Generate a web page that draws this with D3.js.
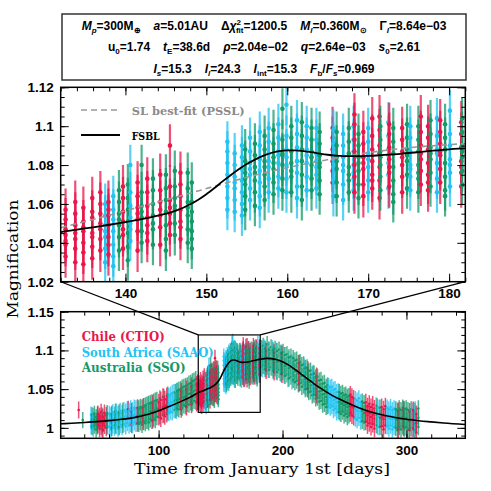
<!DOCTYPE html>
<html>
<head>
<meta charset="utf-8">
<script src="https://cdn.jsdelivr.net/npm/d3@7"></script>
<style>
  body { margin: 0; background: #fff; }
  .tick text { font-family: "Liberation Sans", Arial, sans-serif; font-weight: bold; font-size: 13.5px; fill: #000; }
  .tick line { stroke: #000; stroke-width: 1; }
</style>
</head>
<body>
<div id="chart"></div>
<script>
// ---- data: each night = [time (days), magnification values...] ----
var ctioNights = [
  [35.5, 1.023],
  [51.0, 1.004, 1.011, 1.018], [52.4, 0.999, 1.008, 1.015], [53.6, 1.002, 1.012, 1.020],
  [55.0, 0.997, 1.006, 1.014], [56.3, 1.003, 1.010, 1.019], [57.8, 1.000, 1.009, 1.016],
  [75.5, 1.024], [78.3, 1.004, 1.013, 1.021], [83.0, 1.006, 1.015, 1.026], [87.5, 1.008, 1.017, 1.027],
  [95.3, 1.010, 1.021, 1.031], [100.2, 1.014, 1.024, 1.033], [101.8, 1.012, 1.022, 1.036],
  [103.5, 1.017, 1.027, 1.040], [105.0, 1.015, 1.028, 1.037], [106.6, 1.018, 1.030, 1.041],
  [118.3, 1.024, 1.035, 1.047], [122.5, 1.027, 1.038, 1.050], [126.6, 1.030, 1.041, 1.054],
  [130.8, 1.032, 1.044, 1.056], [131.6, 1.034, 1.046, 1.058],
  [132.6, 1.033, 1.039, 1.044, 1.047, 1.052, 1.057, 1.041],
  [133.8, 1.030, 1.037, 1.045, 1.049, 1.055, 1.061, 1.042],
  [134.8, 1.035, 1.040, 1.046, 1.051, 1.058, 1.029, 1.048],
  [135.9, 1.032, 1.038, 1.045, 1.053, 1.056, 1.063, 1.043],
  [136.9, 1.036, 1.042, 1.047, 1.055, 1.060, 1.066, 1.050],
  [137.9, 1.034, 1.043, 1.049, 1.054, 1.061, 1.039, 1.057],
  [139.7, 1.037, 1.044, 1.051, 1.056, 1.063, 1.069, 1.047],
  [141.5, 1.036, 1.046, 1.052, 1.058, 1.064, 1.071, 1.055],
  [142.7, 1.041, 1.045, 1.053, 1.059, 1.066, 1.073, 1.049],
  [144.3, 1.039, 1.048, 1.054, 1.061, 1.067, 1.075, 1.057],
  [145.5, 1.044, 1.050, 1.055, 1.062, 1.069, 1.090, 1.058],
  [146.8, 1.042, 1.051, 1.057, 1.064, 1.070, 1.076, 1.048],
  [165.6, 1.071, 1.077, 1.082, 1.088, 1.094, 1.099, 1.085],
  [168.3, 1.066, 1.074, 1.080, 1.087, 1.093, 1.101, 1.106],
  [169.4, 1.064, 1.070, 1.078, 1.084, 1.091, 1.097, 1.081],
  [170.5, 1.068, 1.075, 1.082, 1.088, 1.095, 1.104, 1.072],
  [171.4, 1.063, 1.072, 1.079, 1.086, 1.090, 1.098, 1.105],
  [172.6, 1.069, 1.076, 1.083, 1.089, 1.096, 1.101, 1.079],
  [174.2, 1.066, 1.074, 1.080, 1.087, 1.093, 1.099, 1.084],
  [176.5, 1.070, 1.077, 1.083, 1.090, 1.097, 1.105, 1.086],
  [177.4, 1.067, 1.075, 1.081, 1.088, 1.094, 1.100, 1.071],
  [178.9, 1.071, 1.078, 1.085, 1.091, 1.097, 1.103, 1.087],
  [181.5, 1.069, 1.076, 1.082, 1.089, 1.096, 1.102, 1.079],
  [186.8, 1.074, 1.086, 1.099], [193.2, 1.072, 1.084, 1.097], [199.6, 1.069, 1.081, 1.095],
  [213.5, 1.058, 1.070, 1.083], [220.5, 1.050, 1.062, 1.075], [227.5, 1.042, 1.054, 1.067],
  [254.7, 1.019, 1.031, 1.043], [256.0, 1.016, 1.028, 1.040], [257.4, 1.014, 1.026, 1.038],
  [267.2, 1.008, 1.020, 1.033], [268.6, 1.003, 1.016, 1.028], [270.0, 1.006, 1.019, 1.031],
  [271.4, 1.001, 1.014, 1.027], [272.8, 1.005, 1.017, 1.030], [274.2, 0.999, 1.012, 1.025],
  [280.0, 1.002, 1.014, 1.027], [281.5, 0.998, 1.011, 1.024], [283.0, 1.003, 1.015, 1.028],
  [293.5, 0.998, 1.010, 1.022], [297.7, 1.000, 1.012, 1.024], [302.6, 0.997, 1.009, 1.021],
  [305.5, 0.999, 1.011, 1.023], [308.0, 0.994, 1.006, 1.018]
];

var saaoNights = [
  [45.5, 1.002, 1.009, 1.017], [47.3, 0.999, 1.007, 1.015],
  [60.2, 1.001, 1.010, 1.018], [61.5, 0.998, 1.007, 1.016], [63.0, 1.003, 1.011, 1.020],
  [64.4, 1.000, 1.008, 1.017], [66.0, 1.002, 1.012, 1.021], [67.3, 0.999, 1.009, 1.018],
  [69.0, 1.004, 1.013, 1.022], [70.5, 1.001, 1.010, 1.019], [72.0, 1.005, 1.014, 1.023],
  [73.5, 1.002, 1.011, 1.021], [74.8, 1.006, 1.015, 1.024], [76.2, 1.003, 1.012, 1.022],
  [77.5, 1.005, 1.016, 1.025], [79.0, 1.004, 1.013, 1.023], [80.4, 1.007, 1.017, 1.026],
  [81.7, 1.005, 1.014, 1.025], [91.3, 1.009, 1.019, 1.030],
  [108.3, 1.019, 1.030, 1.041], [109.6, 1.021, 1.032, 1.043], [111.0, 1.020, 1.033, 1.045],
  [112.4, 1.023, 1.035, 1.046], [114.3, 1.022, 1.034, 1.047],
  [137.5, 1.030, 1.037, 1.043, 1.049, 1.054, 1.060, 1.046],
  [138.5, 1.033, 1.039, 1.046, 1.052, 1.057, 1.064, 1.028],
  [140.6, 1.041, 1.047, 1.053, 1.059, 1.066, 1.080, 1.050],
  [152.6, 1.057, 1.063, 1.069, 1.075, 1.081, 1.087, 1.092],
  [153.5, 1.056, 1.062, 1.068, 1.074, 1.080, 1.086, 1.071],
  [154.4, 1.060, 1.066, 1.072, 1.078, 1.084, 1.090, 1.054],
  [155.4, 1.062, 1.068, 1.075, 1.081, 1.087, 1.094, 1.078],
  [156.6, 1.064, 1.071, 1.077, 1.083, 1.090, 1.097, 1.058],
  [157.7, 1.066, 1.073, 1.079, 1.086, 1.092, 1.099, 1.082],
  [158.9, 1.068, 1.074, 1.081, 1.087, 1.094, 1.101, 1.085],
  [159.9, 1.066, 1.073, 1.080, 1.088, 1.095, 1.111, 1.084],
  [161.2, 1.069, 1.076, 1.082, 1.089, 1.096, 1.103, 1.063],
  [162.4, 1.067, 1.074, 1.081, 1.088, 1.094, 1.100, 1.085],
  [163.6, 1.068, 1.075, 1.082, 1.086, 1.093, 1.099, 1.079],
  [165.7, 1.064, 1.072, 1.079, 1.085, 1.091, 1.098, 1.083],
  [166.9, 1.062, 1.070, 1.077, 1.084, 1.090, 1.096, 1.080],
  [168.2, 1.067, 1.073, 1.080, 1.087, 1.093, 1.100, 1.076],
  [170.0, 1.066, 1.072, 1.079, 1.086, 1.092, 1.099, 1.083],
  [172.5, 1.068, 1.075, 1.081, 1.088, 1.095, 1.102, 1.085],
  [175.2, 1.067, 1.074, 1.080, 1.087, 1.094, 1.100, 1.078],
  [178.5, 1.066, 1.073, 1.081, 1.088, 1.095, 1.104, 1.086],
  [180.1, 1.069, 1.076, 1.083, 1.090, 1.096, 1.108, 1.080],
  [183.6, 1.076, 1.089, 1.102], [185.2, 1.079, 1.091, 1.104], [188.4, 1.075, 1.088, 1.101],
  [191.6, 1.077, 1.090, 1.103], [194.8, 1.073, 1.086, 1.100], [198.0, 1.071, 1.083, 1.096],
  [201.2, 1.068, 1.081, 1.094], [204.4, 1.063, 1.076, 1.089], [207.6, 1.060, 1.072, 1.085],
  [217.7, 1.054, 1.066, 1.079], [224.7, 1.046, 1.058, 1.071],
  [237.2, 1.029, 1.041, 1.054], [238.5, 1.026, 1.039, 1.052], [239.8, 1.028, 1.040, 1.053],
  [241.1, 1.023, 1.036, 1.049], [242.4, 1.025, 1.037, 1.050], [243.7, 1.020, 1.033, 1.046],
  [245.0, 1.022, 1.034, 1.047],
  [258.8, 1.012, 1.024, 1.037], [260.2, 1.010, 1.022, 1.035], [261.6, 1.013, 1.025, 1.038],
  [263.0, 1.008, 1.021, 1.033], [275.5, 1.004, 1.017, 1.029], [277.0, 1.001, 1.014, 1.026],
  [284.4, 1.002, 1.014, 1.026], [285.8, 0.999, 1.012, 1.024], [287.2, 1.003, 1.015, 1.027],
  [288.6, 0.998, 1.011, 1.023], [290.0, 1.001, 1.013, 1.025],
  [304.5, 0.998, 1.010, 1.022], [307.2, 1.000, 1.012, 1.024]
];

var ssoNights = [
  [38.8, 1.010],
  [46.4, 1.001, 1.008, 1.016], [48.2, 1.003, 1.010, 1.018], [49.6, 0.998, 1.006, 1.014],
  [50.7, 1.002, 1.009, 1.017], [54.3, 0.999, 1.008, 1.016], [58.5, 1.002, 1.010, 1.019],
  [62.2, 1.000, 1.009, 1.018], [65.2, 1.003, 1.012, 1.021], [68.2, 1.001, 1.010, 1.020],
  [71.2, 1.004, 1.013, 1.022],
  [84.0, 1.005, 1.015, 1.025], [85.3, 1.007, 1.016, 1.027], [86.6, 1.004, 1.014, 1.026],
  [88.0, 1.008, 1.018, 1.028], [89.3, 1.006, 1.017, 1.029], [90.6, 1.009, 1.019, 1.030],
  [92.0, 1.007, 1.018, 1.031], [93.3, 1.011, 1.021, 1.032], [94.6, 1.009, 1.020, 1.033],
  [96.0, 1.012, 1.023, 1.034], [97.3, 1.010, 1.022, 1.035], [98.6, 1.014, 1.025, 1.036],
  [101.0, 1.015, 1.026, 1.038], [104.2, 1.017, 1.029, 1.040], [107.4, 1.020, 1.031, 1.043],
  [113.6, 1.023, 1.035, 1.046], [115.0, 1.025, 1.036, 1.048], [116.3, 1.024, 1.037, 1.049],
  [117.7, 1.027, 1.038, 1.050], [119.0, 1.026, 1.039, 1.052], [120.4, 1.029, 1.040, 1.053],
  [121.8, 1.028, 1.041, 1.054], [123.2, 1.031, 1.043, 1.055], [124.5, 1.030, 1.044, 1.057],
  [125.9, 1.033, 1.045, 1.058], [127.3, 1.032, 1.046, 1.060], [128.6, 1.035, 1.048, 1.061],
  [130.0, 1.034, 1.049, 1.063],
  [139.2, 1.036, 1.043, 1.049, 1.055, 1.061, 1.067, 1.052],
  [140.3, 1.038, 1.045, 1.051, 1.057, 1.063, 1.070, 1.031],
  [142.0, 1.040, 1.046, 1.053, 1.059, 1.066, 1.080, 1.056],
  [143.4, 1.039, 1.047, 1.054, 1.060, 1.067, 1.073, 1.050],
  [145.0, 1.042, 1.049, 1.056, 1.062, 1.068, 1.075, 1.036],
  [146.1, 1.044, 1.050, 1.057, 1.063, 1.069, 1.077, 1.059],
  [147.7, 1.040, 1.047, 1.054, 1.061, 1.068, 1.076, 1.058],
  [148.2, 1.037, 1.046, 1.051, 1.061, 1.071, 1.056, 1.042],
  [154.8, 1.057, 1.064, 1.070, 1.076, 1.082, 1.088, 1.073],
  [156.0, 1.059, 1.066, 1.072, 1.079, 1.085, 1.091, 1.076],
  [157.2, 1.062, 1.069, 1.075, 1.082, 1.088, 1.095, 1.079],
  [158.3, 1.065, 1.071, 1.078, 1.084, 1.091, 1.098, 1.081],
  [159.4, 1.067, 1.073, 1.080, 1.086, 1.093, 1.109, 1.085],
  [160.5, 1.066, 1.074, 1.081, 1.087, 1.094, 1.100, 1.077],
  [161.8, 1.069, 1.075, 1.082, 1.088, 1.095, 1.102, 1.062],
  [163.0, 1.067, 1.073, 1.080, 1.087, 1.093, 1.099, 1.084],
  [164.0, 1.065, 1.072, 1.079, 1.085, 1.091, 1.097, 1.081],
  [166.1, 1.064, 1.071, 1.078, 1.084, 1.090, 1.097, 1.082],
  [167.6, 1.066, 1.072, 1.079, 1.086, 1.092, 1.099, 1.075],
  [168.8, 1.063, 1.070, 1.077, 1.084, 1.090, 1.096, 1.081],
  [171.5, 1.067, 1.074, 1.080, 1.087, 1.093, 1.100, 1.084],
  [173.1, 1.065, 1.072, 1.079, 1.086, 1.092, 1.099, 1.061],
  [174.8, 1.068, 1.075, 1.082, 1.088, 1.094, 1.101, 1.085],
  [176.2, 1.066, 1.073, 1.080, 1.087, 1.093, 1.100, 1.076],
  [177.7, 1.069, 1.076, 1.083, 1.089, 1.096, 1.103, 1.086],
  [179.5, 1.067, 1.074, 1.081, 1.088, 1.094, 1.101, 1.064],
  [181.6, 1.070, 1.077, 1.084, 1.090, 1.097, 1.104, 1.087],
  [182.8, 1.077, 1.090, 1.103], [184.4, 1.080, 1.092, 1.106], [186.0, 1.076, 1.089, 1.102],
  [187.6, 1.079, 1.091, 1.108], [189.2, 1.075, 1.088, 1.101], [190.8, 1.078, 1.090, 1.104],
  [192.4, 1.074, 1.087, 1.100], [194.0, 1.077, 1.089, 1.102], [195.6, 1.072, 1.085, 1.099],
  [197.2, 1.075, 1.087, 1.101], [198.8, 1.070, 1.083, 1.097], [200.4, 1.072, 1.085, 1.098],
  [202.0, 1.067, 1.080, 1.094], [203.6, 1.069, 1.082, 1.095], [205.2, 1.064, 1.077, 1.091],
  [206.8, 1.066, 1.079, 1.092], [208.6, 1.062, 1.076, 1.090], [210.0, 1.059, 1.073, 1.087],
  [211.4, 1.061, 1.074, 1.088], [212.8, 1.056, 1.070, 1.084], [214.2, 1.058, 1.071, 1.085],
  [215.6, 1.053, 1.067, 1.081], [217.0, 1.055, 1.068, 1.082], [218.4, 1.050, 1.063, 1.077],
  [219.8, 1.051, 1.064, 1.078], [221.2, 1.046, 1.059, 1.073], [222.6, 1.047, 1.060, 1.074],
  [224.0, 1.042, 1.055, 1.069], [225.4, 1.043, 1.056, 1.070], [226.8, 1.038, 1.051, 1.065],
  [228.2, 1.039, 1.052, 1.066], [229.6, 1.034, 1.047, 1.061], [231.0, 1.035, 1.048, 1.062],
  [232.4, 1.030, 1.043, 1.057], [233.8, 1.031, 1.044, 1.058], [235.2, 1.027, 1.040, 1.053],
  [236.4, 1.028, 1.041, 1.055],
  [245.8, 1.020, 1.033, 1.046], [247.1, 1.018, 1.031, 1.044], [248.4, 1.021, 1.032, 1.045],
  [249.7, 1.016, 1.029, 1.042], [251.0, 1.018, 1.030, 1.043], [252.3, 1.014, 1.027, 1.040],
  [253.6, 1.016, 1.028, 1.041], [264.3, 1.009, 1.022, 1.034], [265.8, 1.007, 1.019, 1.032],
  [276.3, 1.003, 1.016, 1.028], [278.6, 1.001, 1.013, 1.026],
  [291.4, 1.000, 1.012, 1.024], [292.8, 0.997, 1.010, 1.022], [294.2, 1.001, 1.013, 1.025],
  [295.6, 0.998, 1.011, 1.023], [297.0, 1.002, 1.014, 1.026], [298.4, 0.999, 1.011, 1.024],
  [299.8, 1.001, 1.013, 1.025], [301.2, 0.998, 1.010, 1.023], [303.8, 1.000, 1.012, 1.024],
  [306.8, 0.997, 1.010, 1.022], [309.6, 1.001, 1.013, 1.025]
];

// photometric error per site
var siteErr = { ctio: 0.011, saao: 0.0105, sso: 0.0105 };

// FSBL model curve [time, magnification]
var fsblCurve = [
  [21, 1.0052], [30, 1.006], [40, 1.007], [50, 1.008], [60, 1.0093], [70, 1.011], [80, 1.0132],
  [90, 1.0168], [100, 1.0222], [110, 1.0285], [120, 1.0355], [126, 1.040], [132, 1.0455],
  [134, 1.0468], [136, 1.048], [138, 1.0493], [140, 1.0507], [142, 1.0522], [144, 1.054],
  [146, 1.0562], [147, 1.0578], [148, 1.0598], [149, 1.0622], [150, 1.065], [151, 1.0682],
  [152, 1.0716], [153, 1.0748], [154, 1.0778], [155, 1.0805], [156, 1.0828], [157, 1.0847],
  [158, 1.0862], [159, 1.0872], [160, 1.0876], [161, 1.0876], [162, 1.0872], [163, 1.0866],
  [164, 1.0859], [165, 1.0853], [166, 1.0849], [168, 1.0846], [170, 1.0847], [172, 1.0852],
  [174, 1.0858], [176, 1.0866], [178, 1.0874], [180, 1.0881], [182, 1.0886], [185, 1.0894],
  [188, 1.0897], [191, 1.0894], [195, 1.0882], [200, 1.0853], [205, 1.081], [210, 1.0755],
  [215, 1.0695], [220, 1.0635], [225, 1.0575], [230, 1.052], [235, 1.0468], [240, 1.042],
  [245, 1.0378], [250, 1.034], [260, 1.027], [270, 1.0212], [280, 1.017], [290, 1.0137],
  [300, 1.0112], [310, 1.0092], [320, 1.0077], [330, 1.0063], [347.5, 1.0043]
];

// single-lens (PSSL) best fit, zoom panel only
var psslCurve = [
  [132, 1.0478], [136, 1.052], [140, 1.0565], [144, 1.061], [148, 1.0655], [152, 1.0703],
  [156, 1.0748], [160, 1.0787], [164, 1.082], [168, 1.0851], [172, 1.0875], [176, 1.0893],
  [180, 1.0905], [182, 1.091]
];

var topXTicks = [140, 150, 160, 170, 180];
var topYTicks = [1.02, 1.04, 1.06, 1.08, 1.1, 1.12];
var botXTicks = [100, 200, 300];
var botYTicks = [1, 1.05, 1.1, 1.15];

var sites = [
  { key: "ctio", label: "Chile (CTIO)", color: "#e8164b", nights: ctioNights },
  { key: "saao", label: "South Africa (SAAO)", color: "#22c3f2", nights: saaoNights },
  { key: "sso", label: "Australia (SSO)", color: "#139a68", nights: ssoNights }
];

var W = 491, H = 491;
var svg = d3.select("#chart").append("svg").attr("width", W).attr("height", H);
var serif = "'DejaVu Serif', 'Liberation Serif', serif";
var sans = "'Liberation Sans', Arial, sans-serif";

var fmt = function(d) { return String(+d.toFixed(3)); };

// all nights merged, drawn in time order
var nights = [];
sites.forEach(function(s) {
  s.nights.forEach(function(n) { nights.push({ t: n[0], m: n.slice(1), site: s }); });
});
nights.sort(function(a, b) { return a.t - b.t; });

function makePanel(cfg) {
  var x = d3.scaleLinear().domain(cfg.xd).range([cfg.l, cfg.r]);
  var y = d3.scaleLinear().domain(cfg.yd).range([cfg.b, cfg.t]);
  svg.append("clipPath").attr("id", "clip" + cfg.id).append("rect")
    .attr("x", cfg.l).attr("y", cfg.t).attr("width", cfg.r - cfg.l).attr("height", cfg.b - cfg.t);
  var g = svg.append("g");
  var plot = g.append("g").attr("clip-path", "url(#clip" + cfg.id + ")");

  // data
  var sel = nights.filter(function(n) { return n.t >= cfg.xd[0] - 1 && n.t <= cfg.xd[1] + 1; });
  sel.forEach(function(n) {
    var err = siteErr[n.site.key];
    var ng = plot.append("g");
    ng.selectAll("line").data(n.m).enter().append("line")
      .attr("x1", x(n.t)).attr("x2", x(n.t))
      .attr("y1", function(d) { return y(d - err); })
      .attr("y2", function(d) { return y(d + err); })
      .attr("stroke", n.site.color).attr("stroke-opacity", 0.75)
      .attr("stroke-width", cfg.barW);
    ng.selectAll("circle").data(n.m).enter().append("circle")
      .attr("cx", x(n.t)).attr("cy", function(d) { return y(d); })
      .attr("r", cfg.dotR).attr("fill", n.site.color);
  });

  // axes: inward ticks on all four sides
  function ax(fn, scale, vals, size, lab) {
    return fn(scale).tickValues(vals).tickSize(-size).tickPadding(7)
      .tickFormat(lab ? fmt : "");
  }
  var xMinor = x.ticks(cfg.xMinorN), yMinor = y.ticks(cfg.yMinorN);
  [[d3.axisBottom, "translate(0," + cfg.b + ")", x, true],
   [d3.axisTop, "translate(0," + cfg.t + ")", x, false],
   [d3.axisLeft, "translate(" + cfg.l + ",0)", y, true],
   [d3.axisRight, "translate(" + cfg.r + ",0)", y, false]].forEach(function(a) {
    var isX = a[2] === x;
    var major = isX ? cfg.xTicks : cfg.yTicks;
    var minor = isX ? xMinor : yMinor;
    g.append("g").attr("transform", a[1]).call(ax(a[0], a[2], minor, 4, false))
      .call(function(s) { s.select(".domain").remove(); });
    g.append("g").attr("transform", a[1]).call(ax(a[0], a[2], major, 8, a[3]))
      .call(function(s) { s.select(".domain").remove(); });
  });
  g.append("rect").attr("x", cfg.l).attr("y", cfg.t)
    .attr("width", cfg.r - cfg.l).attr("height", cfg.b - cfg.t)
    .attr("fill", "none").attr("stroke", "#000").attr("stroke-width", 1.5);

  return { x: x, y: y, g: g, plot: plot };
}

var topP = makePanel({ id: "top", l: 60.7, r: 465.3, t: 87.3, b: 281.7,
  xd: [132, 182], yd: [1.02, 1.12], xTicks: topXTicks, yTicks: topYTicks,
  xMinorN: 25, yMinorN: 20, dotR: 2.3, barW: 2.2 });
var botP = makePanel({ id: "bot", l: 60.7, r: 465.3, t: 311.7, b: 438.3,
  xd: [21, 347.5], yd: [0.9865, 1.15], xTicks: botXTicks, yTicks: botYTicks,
  xMinorN: 16, yMinorN: 16, dotR: 1.3, barW: 1.5 });

// model curves
function line(p) {
  return d3.line().x(function(d) { return p.x(d[0]); }).y(function(d) { return p.y(d[1]); })
    .curve(d3.curveMonotoneX);
}
topP.plot.append("path").datum(psslCurve).attr("d", line(topP))
  .attr("fill", "none").attr("stroke", "#999").attr("stroke-width", 1.6)
  .attr("stroke-dasharray", "6,4");
topP.plot.append("path").datum(fsblCurve).attr("d", line(topP))
  .attr("fill", "none").attr("stroke", "#000").attr("stroke-width", 1.8);
botP.plot.append("path").datum(fsblCurve).attr("d", line(botP))
  .attr("fill", "none").attr("stroke", "#000").attr("stroke-width", 1.6);

// zoom box and connectors
var zx0 = botP.x(topP.x.domain()[0]), zx1 = botP.x(topP.x.domain()[1]);
var zy0 = botP.y(topP.y.domain()[1]), zy1 = botP.y(topP.y.domain()[0]);
svg.append("rect").attr("x", zx0).attr("y", zy0).attr("width", zx1 - zx0).attr("height", zy1 - zy0)
  .attr("fill", "none").attr("stroke", "#000").attr("stroke-width", 1.2);
svg.append("line").attr("x1", 60.7).attr("y1", 281.7).attr("x2", zx0).attr("y2", zy0)
  .attr("stroke", "#000").attr("stroke-width", 1.2);
svg.append("line").attr("x1", 465.3).attr("y1", 281.7).attr("x2", zx1).attr("y2", zy0)
  .attr("stroke", "#000").attr("stroke-width", 1.2);

// top legend
svg.append("line").attr("x1", 81).attr("x2", 120).attr("y1", 110).attr("y2", 110)
  .attr("stroke", "#999").attr("stroke-width", 1.6).attr("stroke-dasharray", "6,4");
svg.append("text").attr("x", 131.7).attr("y", 114.5).text("SL best-fit (PSSL)")
  .attr("font-family", serif).attr("font-weight", "bold").attr("font-size", 11.5)
  .attr("fill", "#8a8a8a").attr("textLength", 113).attr("lengthAdjust", "spacingAndGlyphs");
svg.append("line").attr("x1", 81).attr("x2", 120).attr("y1", 135).attr("y2", 135)
  .attr("stroke", "#000").attr("stroke-width", 1.8);
svg.append("text").attr("x", 131.7).attr("y", 139.5).text("FSBL")
  .attr("font-family", serif).attr("font-weight", "bold").attr("font-size", 11.5)
  .attr("fill", "#000").attr("textLength", 28).attr("lengthAdjust", "spacingAndGlyphs");

// site legend
var legW = [83, 132, 104];
sites.forEach(function(s, i) {
  svg.append("text").attr("x", 81.7).attr("y", 341 + i * 15.5).text(s.label)
    .attr("font-family", serif).attr("font-weight", "bold").attr("font-size", 12)
    .attr("fill", s.color).attr("textLength", legW[i]).attr("lengthAdjust", "spacingAndGlyphs");
});

// axis titles
svg.append("text").attr("x", 262).attr("y", 474).attr("text-anchor", "middle")
  .text("Time from January 1st [days]")
  .attr("font-family", serif).attr("font-size", 15.5)
  .attr("textLength", 256).attr("lengthAdjust", "spacingAndGlyphs");
svg.append("text").attr("transform", "translate(17.5,259) rotate(-90)").attr("text-anchor", "middle")
  .text("Magnification")
  .attr("font-family", serif).attr("font-size", 15.5)
  .attr("textLength", 119).attr("lengthAdjust", "spacingAndGlyphs");

// parameter box
svg.append("rect").attr("x", 62).attr("y", 14).attr("width", 404).attr("height", 66)
  .attr("fill", "#fff").attr("stroke", "#333").attr("stroke-width", 1.5);

var GAP = ["gap"];
var headerLines = [
  [["M", "i"], ["p", "subi"], ["=300M", ""], ["⊕", "sub"], GAP, ["a", "i"], ["=5.01AU", ""], GAP,
   ["Δ", ""], ["χ", "i"], ["2", "sup"], ["fit", "subback"], ["=1200.5", ""], GAP,
   ["M", "i"], ["l", "subi"], ["=0.360M", ""], ["⊙", "sub"], GAP, ["Γ", ""], ["I", "subi"], ["=8.64e−03", ""]],
  [["u", ""], ["0", "sub"], ["=1.74", ""], GAP, ["t", "i"], ["E", "sub"], ["=38.6d", ""], GAP,
   ["ρ", "i"], ["=2.04e−02", ""], GAP, ["q", "i"], ["=2.64e−03", ""], GAP, ["s", "i"], ["0", "sub"], ["=2.61", ""]],
  [["I", "i"], ["s", "subi"], ["=15.3", ""], GAP, ["I", "i"], ["l", "subi"], ["=24.3", ""], GAP,
   ["I", "i"], ["int", "sub"], ["=15.3", ""], GAP, ["F", "i"], ["b", "sub"], ["/", ""], ["F", "i"],
   ["s", "subi"], ["=0.969", ""]]
];
var headerY = [29.5, 51, 72.5];
headerLines.forEach(function(parts, li) {
  var t = svg.append("text").attr("x", 264).attr("y", headerY[li]).attr("text-anchor", "middle")
    .attr("font-family", sans).attr("font-weight", "bold").attr("font-size", 12);
  var shift = 0, pendingGap = 0;
  parts.forEach(function(p) {
    if (p[0] === "gap") { pendingGap = 13; return; }
    var kind = p[1];
    var target = kind === "sup" ? -4.5 : (kind.indexOf("sub") === 0 ? 3 : 0);
    var ts = t.append("tspan").text(p[0]).attr("dy", target - shift);
    var dx = pendingGap;
    if (kind === "subback") dx -= 5;
    if (dx) ts.attr("dx", dx);
    pendingGap = 0;
    shift = target;
    if (kind === "i" || kind === "subi") ts.attr("font-style", "italic");
    if (kind !== "" && kind !== "i") ts.attr("font-size", 8);
  });
});
</script>
</body>
</html>
